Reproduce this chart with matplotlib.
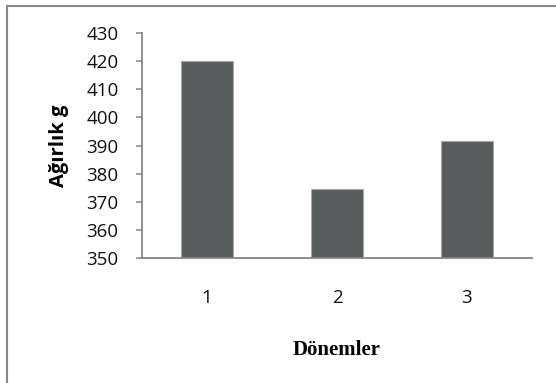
import matplotlib.pyplot as plt
from matplotlib.lines import Line2D

# Ağırlık ortalamaları, dönemlere göre
donemler = ["1", "2", "3"]
agirlik = [420.2, 374.5, 391.7]

fig = plt.figure(figsize=(5.56, 3.83), dpi=100)
ax = fig.add_axes([0.2554, 0.3264, 0.7014, 0.5874])

x = range(1, len(donemler) + 1)
ax.bar(x, agirlik, width=0.4, color="#595c5c", edgecolor="#a8a8a8", linewidth=0.8, zorder=2)

ax.set_xlim(0.5, 3.5)
ax.set_ylim(350, 430)
ax.set_yticks(range(350, 431, 10))
ax.set_xticks(list(x))
ax.set_xticklabels(donemler)

axis_col = "#868686"
for side in ("top", "right"):
    ax.spines[side].set_visible(False)
for side in ("left", "bottom"):
    ax.spines[side].set_color(axis_col)
    ax.spines[side].set_linewidth(1.3)

ax.tick_params(axis="y", direction="out", length=4, width=1.1, color=axis_col, pad=13,
               labelsize=13.5)
ax.tick_params(axis="x", length=0, pad=22, labelsize=13.5)
for lbl in ax.get_xticklabels() + ax.get_yticklabels():
    lbl.set_family("Open Sans")
    lbl.set_color("#111111")

ax.set_ylabel("Ağırlık g", family="Open Sans", fontweight="bold", fontsize=14.5)
ax.yaxis.set_label_coords(-0.188, 0.5)
ax.set_xlabel("Dönemler", family="Liberation Serif", fontweight="bold", fontsize=15)
ax.xaxis.set_label_coords(0.5, -0.365)

# çerçeve (üst ve sol kenar)
W, H = 556, 383
fig.add_artist(Line2D([7 / W, 1], [1 - 6 / H, 1 - 6 / H], transform=fig.transFigure,
                      color="#888888", linewidth=1.5))
fig.add_artist(Line2D([7 / W, 7 / W], [0, 1 - 6 / H], transform=fig.transFigure,
                      color="#888888", linewidth=1.5))

fig.savefig("out.png", dpi=100)
